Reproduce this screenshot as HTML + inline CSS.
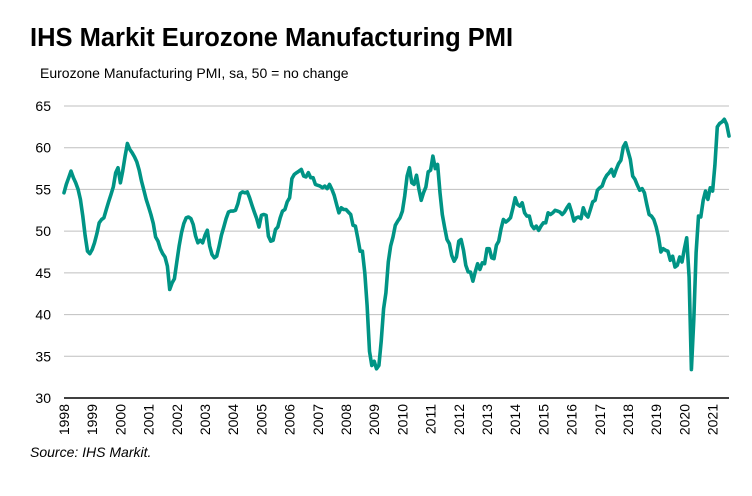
<!DOCTYPE html>
<html><head><meta charset="utf-8"><style>
body{margin:0;background:#fff;font-family:"Liberation Sans",Arial,sans-serif;}
#wrap{position:relative;width:752px;height:496px;overflow:hidden;}
</style></head><body>
<div id="wrap">
<svg id="chart" width="752" height="496">
<text x="30" y="46" font-size="25.5" font-weight="bold" fill="#000">IHS Markit Eurozone Manufacturing PMI</text>
<text x="40" y="78" font-size="14" fill="#000">Eurozone Manufacturing PMI, sa, 50 = no change</text>
<text x="30" y="457" font-size="14" font-style="italic" fill="#000">Source: IHS Markit.</text>
<g id="grid"></g><g id="yt"></g><g id="xt"></g><g id="ser"></g>
</svg></div>
<script>
const years=["1998","1999","2000","2001","2002","2003","2004","2005","2006","2007","2008","2009","2010","2011","2012","2013","2014","2015","2016","2017","2018","2019","2020","2021"];
const yTicks=[30,35,40,45,50,55,60,65];
const pmi=[
54.6,55.6,56.4,57.2,56.4,55.8,55.0,53.8,51.8,49.5,47.6,47.3,
47.8,48.6,49.7,51.0,51.4,51.6,52.6,53.5,54.4,55.3,57.0,57.6,
55.8,57.2,59.0,60.5,59.8,59.4,58.9,58.3,57.3,56.0,54.9,53.8,
52.9,52.0,50.9,49.3,48.8,47.9,47.3,46.9,45.8,43.0,43.8,44.3,
46.3,48.2,49.8,50.9,51.6,51.7,51.5,50.8,49.4,48.6,48.9,48.6,
49.5,50.1,48.2,47.2,46.8,47.0,48.2,49.5,50.5,51.5,52.3,52.4,
52.4,52.5,53.3,54.5,54.7,54.6,54.7,54.0,53.1,52.3,51.5,50.5,
51.9,52.0,51.9,49.4,48.8,48.9,50.2,50.5,51.6,52.4,52.6,53.5,
54.0,56.3,56.8,57.0,57.2,57.4,56.6,56.5,57.0,56.4,56.4,55.6,
55.5,55.4,55.2,55.4,55.1,55.6,55.0,54.3,53.2,52.2,52.8,52.6,
52.6,52.3,52.0,50.7,50.6,49.2,47.6,47.6,45.0,41.1,35.6,33.9,
34.4,33.5,33.9,36.8,40.7,42.6,46.3,48.2,49.3,50.7,51.2,51.6,
52.4,54.2,56.6,57.6,55.8,55.6,56.7,55.1,53.7,54.6,55.3,57.1,
57.3,59.0,57.5,58.0,54.6,52.0,50.4,49.0,48.5,47.1,46.4,46.9,
48.8,49.0,47.7,45.9,45.1,45.1,44.0,45.1,46.1,45.4,46.2,46.1,
47.9,47.9,46.8,46.7,48.3,48.8,50.3,51.4,51.1,51.3,51.6,52.7,
54.0,53.2,53.0,53.4,52.2,51.8,51.8,50.7,50.3,50.6,50.1,50.6,
51.0,51.0,52.2,52.0,52.2,52.5,52.4,52.3,52.0,52.3,52.8,53.2,
52.3,51.2,51.6,51.7,51.5,52.8,52.0,51.7,52.6,53.5,53.7,54.9,
55.2,55.4,56.2,56.7,57.0,57.4,56.6,57.4,58.1,58.5,60.1,60.6,
59.6,58.6,56.6,56.2,55.5,54.9,55.1,54.6,53.2,52.0,51.8,51.4,
50.5,49.3,47.5,47.9,47.7,47.6,46.5,47.0,45.7,45.9,46.9,46.3,
47.9,49.2,44.5,33.4,39.4,47.4,51.8,51.7,53.7,54.8,53.8,55.2,
54.8,57.9,62.5,62.9,63.1,63.4,62.8,61.4];
const NS="http://www.w3.org/2000/svg";
const X0=64,X1=729,Y0=398,Y1=106;
const xM=i=>X0+i*(X1-X0)/283;
const yV=v=>Y0-(v-30)*(Y0-Y1)/35;
function mk(t,a,p){const e=document.createElementNS(NS,t);for(const k in a)e.setAttribute(k,a[k]);p.appendChild(e);return e;}
const grid=document.getElementById('grid'),yt=document.getElementById('yt'),xt=document.getElementById('xt'),ser=document.getElementById('ser');
yTicks.forEach(v=>{
 if(v>30){const l=mk('line',{x1:X0,x2:X1,y1:yV(v),y2:yV(v),stroke:'#bfbfbf','stroke-width':1},grid);
 
 }
 const t=mk('text',{x:51,y:yV(v)+5,'font-size':14,'text-anchor':'end',fill:'#000'},yt);t.textContent=v;
 
 
});
const ax=mk('line',{x1:X0,x2:X1,y1:Y0,y2:Y0,stroke:'#000','stroke-width':1.5},grid);


years.forEach((y,i)=>{
 const x=xM(i*12);
 const t=mk('text',{x:0,y:0,'font-size':14,'text-anchor':'end',fill:'#000',transform:`translate(${x+5},${Y0+6}) rotate(-90)`},xt);t.textContent=y;
 
 
});
const d=pmi.map((v,i)=>(i?'L':'M')+xM(i).toFixed(1)+','+yV(v).toFixed(1)).join('');
const p=mk('path',{d:d,fill:'none',stroke:'#009485','stroke-width':3.6,'stroke-linejoin':'round','stroke-linecap':'round'},ser);


</script>
</body></html>
